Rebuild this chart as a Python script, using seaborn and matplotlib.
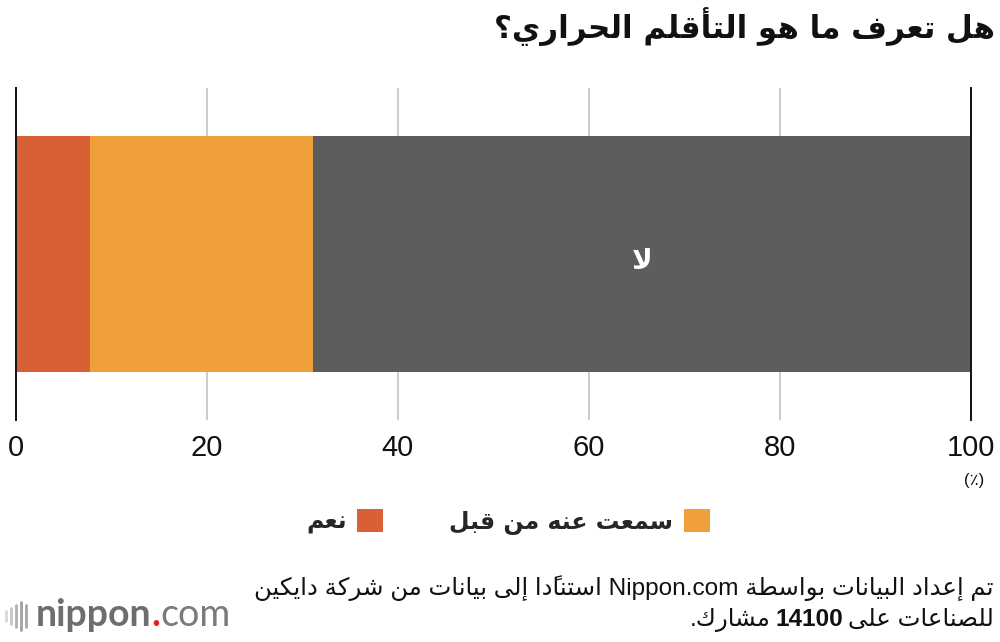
import numpy as np
import pandas as pd
import matplotlib
matplotlib.use('Agg')
import matplotlib.pyplot as plt
import seaborn as sns
from matplotlib.patches import Patch
from matplotlib.lines import Line2D

# ---- data ----
categories = ['نعم', 'سمعت عنه من قبل', 'لا']
shares = [7.8, 23.3, 68.9]
colors = ['#D96035', '#F0A03A', '#5D5D5D']
xticks = [0, 20, 40, 60, 80, 100]
title = 'هل تعرف ما هو التأقلم الحراري؟'
unit_label = '(٪)'
source_line1 = 'تم إعداد البيانات بواسطة Nippon.com استنادًا إلى بيانات من شركة دايكين'
# second line in pieces (right to left) so the number can be bold
source_line2 = ['للصناعات على', '14100', 'مشارك.']

# ---- minimal Arabic shaping (matplotlib has no complex text layout) ----
# isolated form code in Presentation Forms-B, and whether the letter joins to the next one
AR_FORMS = {
    'ا': (0xFE8D, False), 'أ': (0xFE83, False), 'إ': (0xFE87, False), 'آ': (0xFE81, False),
    'ب': (0xFE8F, True), 'ة': (0xFE93, False), 'ت': (0xFE95, True), 'ث': (0xFE99, True),
    'ج': (0xFE9D, True), 'ح': (0xFEA1, True), 'خ': (0xFEA5, True), 'د': (0xFEA9, False),
    'ذ': (0xFEAB, False), 'ر': (0xFEAD, False), 'ز': (0xFEAF, False), 'س': (0xFEB1, True),
    'ش': (0xFEB5, True), 'ص': (0xFEB9, True), 'ض': (0xFEBD, True), 'ط': (0xFEC1, True),
    'ظ': (0xFEC5, True), 'ع': (0xFEC9, True), 'غ': (0xFECD, True), 'ف': (0xFED1, True),
    'ق': (0xFED5, True), 'ك': (0xFED9, True), 'ل': (0xFEDD, True), 'م': (0xFEE1, True),
    'ن': (0xFEE5, True), 'ه': (0xFEE9, True), 'و': (0xFEED, False), 'ى': (0xFEEF, False),
    'ي': (0xFEF1, True),
}
LAM_ALEF = {'ا': 0xFEFB, 'أ': 0xFEF7, 'إ': 0xFEF9, 'آ': 0xFEF5}
MARKS = set(chr(c) for c in range(0x064B, 0x0653))


def is_letter(b):
    return b in AR_FORMS or b.startswith('LA')


def joins_next(b):
    return b in AR_FORMS and AR_FORMS[b][1]


def shape_word(word):
    clusters = []
    for ch in word:
        if ch in MARKS and clusters:
            clusters[-1][1] += ch
        else:
            clusters.append([ch, ''])
    merged = []
    i = 0
    while i < len(clusters):
        base, marks = clusters[i]
        if base == 'ل' and i + 1 < len(clusters) and clusters[i + 1][0] in LAM_ALEF:
            merged.append(['LA' + clusters[i + 1][0], marks + clusters[i + 1][1]])
            i += 2
        else:
            merged.append([base, marks])
            i += 1
    out = []
    for i, (base, marks) in enumerate(merged):
        prev_j = i > 0 and joins_next(merged[i - 1][0]) and is_letter(base)
        if base.startswith('LA'):
            g = chr(LAM_ALEF[base[2]] + (1 if prev_j else 0))
        elif base in AR_FORMS:
            iso, dual = AR_FORMS[base]
            next_j = dual and i + 1 < len(merged) and is_letter(merged[i + 1][0])
            if prev_j and next_j:
                g = chr(iso + 3)
            elif prev_j:
                g = chr(iso + 1)
            elif next_j:
                g = chr(iso + 2)
            else:
                g = chr(iso)
        else:
            g = base
        out.append(g + marks)
    return ''.join(reversed(out))


def visual(line):
    out = []
    for t in line.split(' '):
        if any(c.isascii() and c.isalnum() for c in t):
            out.append(t)
        else:
            out.append(shape_word(t))
    return ' '.join(reversed(out))


# ---- plot ----
sns.set_theme(style='white')
plt.rcParams['font.family'] = ['Liberation Sans', 'DejaVu Sans']
AR_FONT = ['DejaVu Sans']

fig = plt.figure(figsize=(10, 6.42), dpi=100)
ax = fig.add_axes([0.016, 1 - 420 / 642, 0.955, 332 / 642])
renderer = fig.canvas.get_renderer()

df = pd.DataFrame({'category': categories, 'share': shares, 'color': colors})
df['cum'] = df['share'].cumsum()
df['row'] = 'all'

# stacked bar: draw cumulative totals from the longest to the shortest
for _, r in df.iloc[::-1].iterrows():
    sns.barplot(x=[r['cum']], y=[r['row']], color=r['color'], orient='h',
                width=0.708, saturation=1, errorbar=None, linewidth=0, ax=ax)

ax.set_xlim(0, 100)
ax.set_ylim(0.5, -0.5)
ax.set_xticks(xticks)
ax.set_xticklabels([str(t) for t in xticks], fontsize=21)
ax.set_yticks([])
ax.set_xlabel('')
ax.set_ylabel('')
ax.tick_params(axis='x', length=0, pad=10, colors='#111111')
ax.xaxis.grid(True, color='#cccccc', linewidth=1.4)
ax.set_axisbelow(True)
for s in ['top', 'bottom']:
    ax.spines[s].set_visible(False)
for s in ['left', 'right']:
    ax.spines[s].set_color('#111111')
    ax.spines[s].set_linewidth(1.4)

# label inside the largest segment
last = df.iloc[-1]
ax.text(last['cum'] - last['share'] / 2, 0.02, visual(last['category']), color='white',
        fontsize=20, fontweight='bold', family=AR_FONT, ha='center', va='center')

fig.text(0.984, 1 - 481 / 642, unit_label, ha='right', va='center', fontsize=12, color='#111111')

# title
fig.text(0.995, 1 - 27 / 642, visual(title), ha='right', va='center', fontsize=22.2,
         fontweight='bold', family=AR_FONT, color='#111111')

# legend (right-to-left: marker after text)
handles = [Patch(facecolor=c, edgecolor='none', label=visual(l))
           for l, c in zip(categories[:2], colors[:2])]
fig.legend(handles=handles, ncol=2, markerfirst=False, frameon=False, loc='center',
           bbox_to_anchor=(0.508, 1 - 522 / 642), handlelength=1.1, handleheight=1.1,
           handletextpad=0.45, columnspacing=2.8,
           prop={'family': AR_FONT, 'weight': 'bold', 'size': 17})

# source note
fig.text(0.994, 1 - 588 / 642, visual(source_line1), ha='right', va='center',
         fontsize=17.6, color='#111111')
x_right = 0.994
for part in source_line2:
    is_num = part.isdigit()
    t = fig.text(x_right, 1 - 620 / 642, part if is_num else visual(part), ha='right', va='center',
                 fontsize=17.6, color='#111111', fontweight='bold' if is_num else 'normal')
    x_right -= (t.get_window_extent(renderer).width + 5) / fig.bbox.width

# nippon.com logo
for x, h, c in [(6, 10, '#d8d8d8'), (11, 16, '#c4c4c4'), (16, 22, '#b0b0b0'),
                (21, 28, '#a0a0a0'), (26, 22, '#a8a8a8')]:
    fig.add_artist(Line2D([x / 1000, x / 1000], [1 - (616 + h / 2) / 642, 1 - (616 - h / 2) / 642],
                          color=c, linewidth=2, transform=fig.transFigure))
x0 = 36 / 1000
ybase = 1 - 626 / 642
for txt, col, wt in [('nippon', '#6e6e6e', 'bold'), ('.', '#e0202a', 'bold'), ('com', '#7a7a7a', 'normal')]:
    t = fig.text(x0, ybase, txt, color=col, fontsize=27, fontweight=wt, family=['Lato', 'DejaVu Sans'],
                 ha='left', va='baseline')
    x0 += t.get_window_extent(renderer).width / fig.bbox.width

fig.savefig('out.png', dpi=100)
